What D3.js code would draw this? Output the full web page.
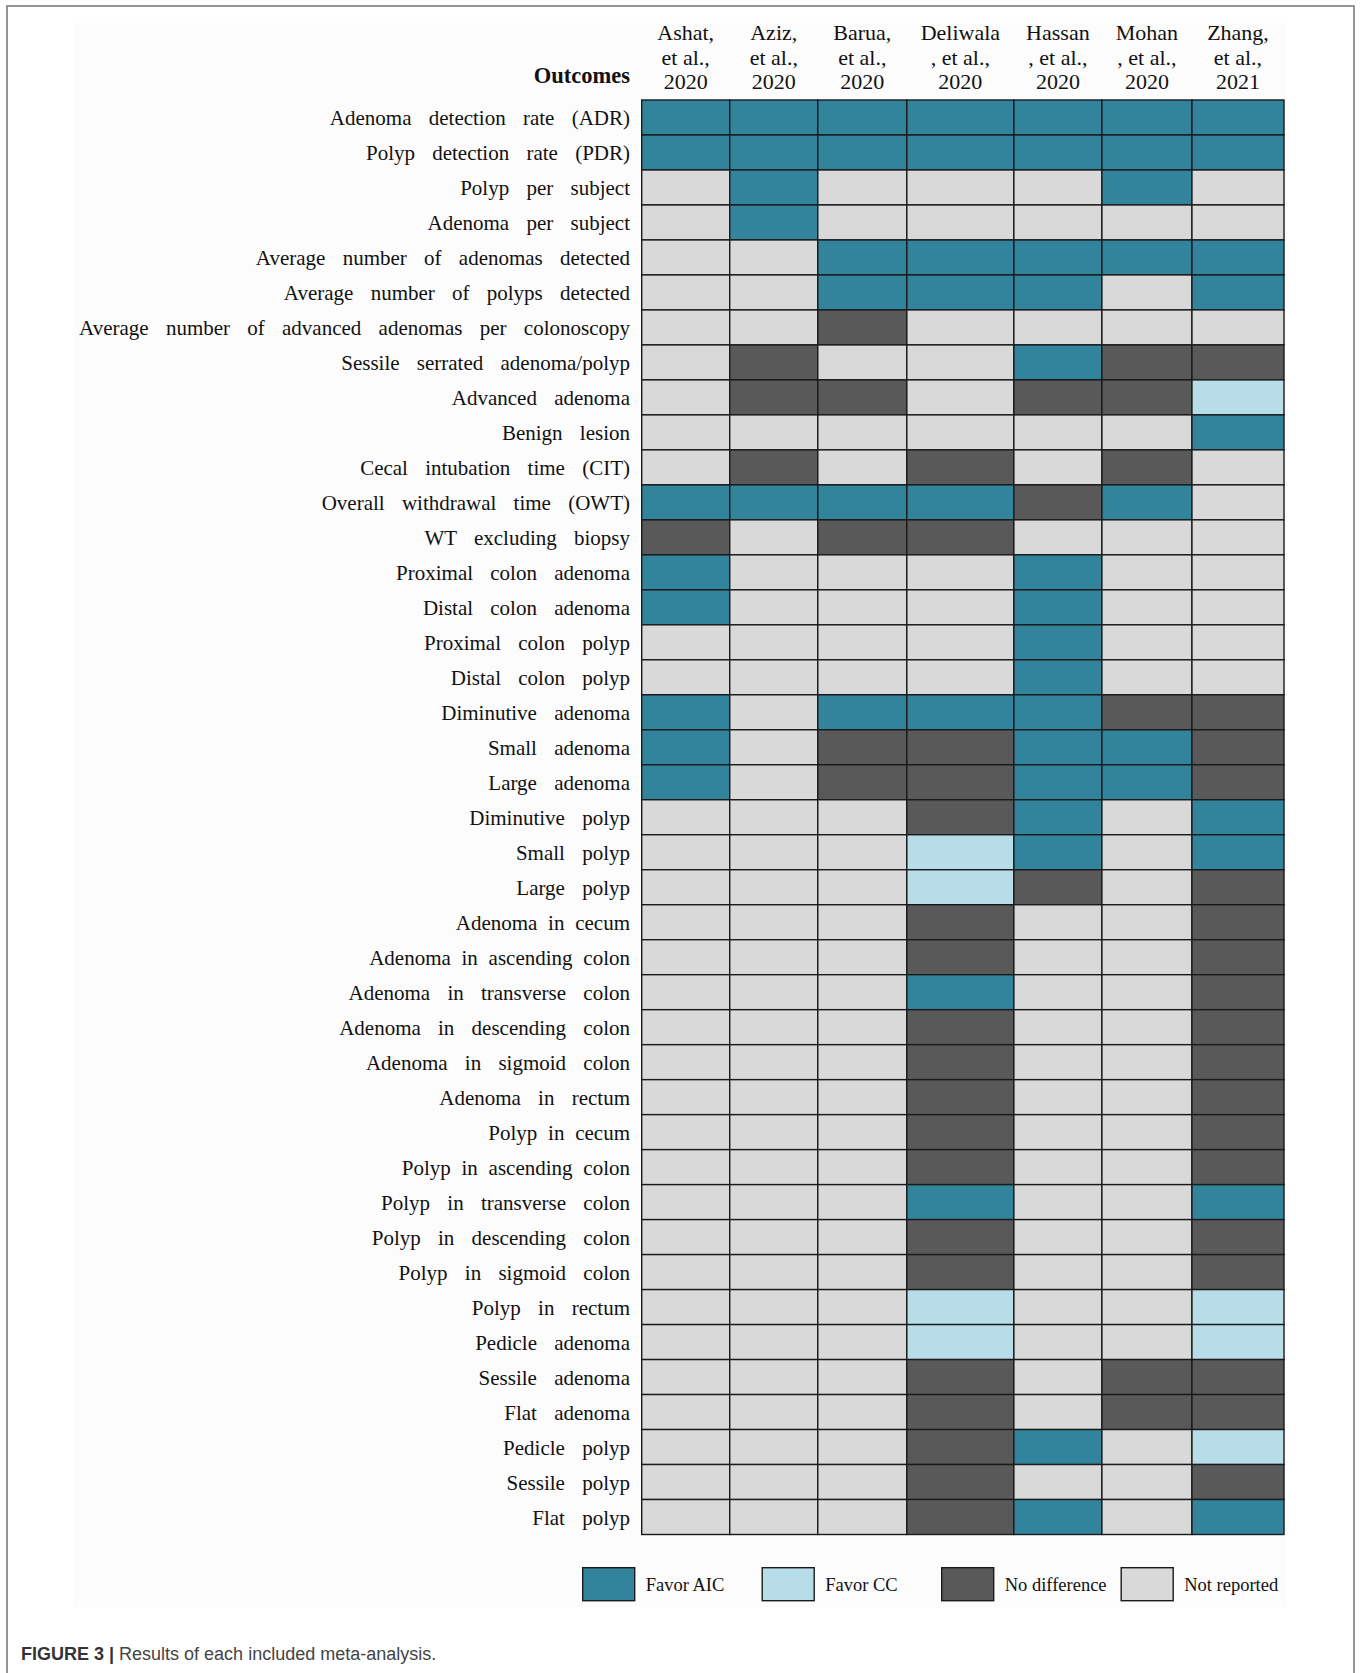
<!DOCTYPE html>
<html>
<head>
<meta charset="utf-8">
<style>
	body { margin: 0; background: #fff; }
	svg { display: block; }
</style>
<script src="https://d3js.org/d3.v7.min.js"></script>
</head>
<body>
<div id="chart"></div>
<script>
	// Outcomes (rows, top to bottom)
	var outcomes = [
		"Adenoma detection rate (ADR)", "Polyp detection rate (PDR)", "Polyp per subject",
		"Adenoma per subject", "Average number of adenomas detected", "Average number of polyps detected",
		"Average number of advanced adenomas per colonoscopy", "Sessile serrated adenoma/polyp",
		"Advanced adenoma", "Benign lesion", "Cecal intubation time (CIT)", "Overall withdrawal time (OWT)",
		"WT excluding biopsy", "Proximal colon adenoma", "Distal colon adenoma", "Proximal colon polyp",
		"Distal colon polyp", "Diminutive adenoma", "Small adenoma", "Large adenoma", "Diminutive polyp",
		"Small polyp", "Large polyp", "Adenoma in cecum", "Adenoma in ascending colon",
		"Adenoma in transverse colon", "Adenoma in descending colon", "Adenoma in sigmoid colon",
		"Adenoma in rectum", "Polyp in cecum", "Polyp in ascending colon", "Polyp in transverse colon",
		"Polyp in descending colon", "Polyp in sigmoid colon", "Polyp in rectum", "Pedicle adenoma",
		"Sessile adenoma", "Flat adenoma", "Pedicle polyp", "Sessile polyp", "Flat polyp"
	];
	// labels typeset without the extra word spacing
	var plainLabels = ["Adenoma in cecum", "Adenoma in ascending colon", "Polyp in cecum", "Polyp in ascending colon"];

	// Studies (columns), header lines
	var studies = [
		["Ashat,", "et al.,", "2020"],
		["Aziz,", "et al.,", "2020"],
		["Barua,", "et al.,", "2020"],
		["Deliwala", ", et al.,", "2020"],
		["Hassan", ", et al.,", "2020"],
		["Mohan", ", et al.,", "2020"],
		["Zhang,", "et al.,", "2021"]
	];

	// A = Favor AIC, C = Favor CC, N = No difference, R = Not reported
	var ashat = ["A","A","R","R","R","R","R","R","R","R","R","A","N","A","A","R","R","A","A","A","R",
		"R","R","R","R","R","R","R","R","R","R","R","R","R","R","R","R","R","R","R","R"];
	var aziz = ["A","A","A","A","R","R","R","N","N","R","N","A","R","R","R","R","R","R","R","R","R",
		"R","R","R","R","R","R","R","R","R","R","R","R","R","R","R","R","R","R","R","R"];
	var barua = ["A","A","R","R","A","A","N","R","N","R","R","A","N","R","R","R","R","A","N","N","R",
		"R","R","R","R","R","R","R","R","R","R","R","R","R","R","R","R","R","R","R","R"];
	var deliwala = ["A","A","R","R","A","A","R","R","R","R","N","A","N","R","R","R","R","A","N","N","N",
		"C","C","N","N","A","N","N","N","N","N","A","N","N","C","C","N","N","N","N","N"];
	var hassan = ["A","A","R","R","A","A","R","A","N","R","R","N","R","A","A","A","A","A","A","A","A",
		"A","N","R","R","R","R","R","R","R","R","R","R","R","R","R","R","R","A","R","A"];
	var mohan = ["A","A","A","R","A","R","R","N","N","R","N","A","R","R","R","R","R","N","A","A","R",
		"R","R","R","R","R","R","R","R","R","R","R","R","R","R","R","N","N","R","R","R"];
	var zhang = ["A","A","R","R","A","A","R","N","C","A","R","R","R","R","R","R","R","N","N","N","A",
		"A","N","N","N","N","N","N","N","N","N","A","N","N","C","C","N","N","C","N","A"];
	var results = [ashat, aziz, barua, deliwala, hassan, mohan, zhang];

	var legendCodes = ["A", "C", "N", "R"];
	var legendLabels = ["Favor AIC", "Favor CC", "No difference", "Not reported"];

	// relative column widths as drawn in the original table
	var colWeights = [88, 88, 89, 107, 88, 90, 92];

	var W = 1362, H = 1673;
	var serif = "'Liberation Serif', 'Times New Roman', serif";

	var svg = d3.select("#chart").append("svg")
		.attr("width", W)
		.attr("height", H);

	svg.append("rect").attr("width", W).attr("height", H).attr("fill", "#fff");
	// outer figure frame (bottom edge runs off the page)
	svg.append("rect")
		.attr("x", 7).attr("y", 6).attr("width", 1347).attr("height", 1720)
		.attr("fill", "none").attr("stroke", "#8a8a8a").attr("stroke-width", 1.8);
	// faint figure panel
	svg.append("rect")
		.attr("x", 73).attr("y", 23).attr("width", 1214).attr("height", 1584)
		.attr("fill", "#fcfcfc");

	var color = d3.scaleOrdinal()
		.domain(legendCodes)
		.range(["#31849b", "#b7dee8", "#595959", "#d9d9d9"]);

	var cum = [0];
	colWeights.forEach(function(w, i) { cum.push(cum[i] + w); });
	var x = d3.scaleLinear().domain([0, cum[cum.length - 1]]).range([641.7, 1284]);
	var y = d3.scaleBand().domain(outcomes).range([100, 1534.5]).padding(0);

	// Cells
	var cells = [];
	results.forEach(function(col, j) {
		col.forEach(function(code, i) {
			cells.push({ col: j, row: outcomes[i], code: code });
		});
	});
	svg.append("g").selectAll("rect")
		.data(cells)
		.enter()
		.append("rect")
		.attr("x", function(d) { return x(cum[d.col]); })
		.attr("y", function(d) { return y(d.row); })
		.attr("width", function(d) { return x(cum[d.col + 1]) - x(cum[d.col]); })
		.attr("height", y.bandwidth())
		.attr("fill", function(d) { return color(d.code); })
		.attr("stroke", "#1a1a1a")
		.attr("stroke-width", 1.4);

	// Row labels
	svg.append("g").selectAll("text")
		.data(outcomes)
		.enter()
		.append("text")
		.text(function(d) { return d; })
		.attr("x", 630)
		.attr("y", function(d) { return y(d) + y.bandwidth() / 2 + 7.5; })
		.attr("text-anchor", "end")
		.attr("font-family", serif)
		.attr("font-size", "21px")
		.attr("word-spacing", function(d) { return plainLabels.indexOf(d) >= 0 ? "5.5px" : "12px"; })
		.attr("fill", "#111");

	// Column headers
	var head = svg.append("g").selectAll("text")
		.data(studies)
		.enter()
		.append("text")
		.attr("text-anchor", "middle")
		.attr("font-family", serif)
		.attr("font-size", "22px")
		.attr("fill", "#111");
	head.selectAll("tspan")
		.data(function(d, i) { return d.map(function(t) { return { t: t, c: i }; }); })
		.enter()
		.append("tspan")
		.attr("x", function(d) { return (x(cum[d.c]) + x(cum[d.c + 1])) / 2; })
		.attr("y", function(d, k) { return 40 + k * 24.5; })
		.text(function(d) { return d.t; });

	svg.append("text")
		.text("Outcomes")
		.attr("x", 630)
		.attr("y", 83)
		.attr("text-anchor", "end")
		.attr("font-family", serif)
		.attr("font-weight", "bold")
		.attr("font-size", "22.5px")
		.attr("fill", "#111");

	// Legend
	var lx = d3.scaleBand().domain(legendCodes).range([582.7, 1300.7]).padding(0);
	var leg = svg.append("g").selectAll("g")
		.data(legendCodes)
		.enter()
		.append("g")
		.attr("transform", function(d) { return "translate(" + lx(d) + ",1567.7)"; });
	leg.append("rect")
		.attr("width", 52)
		.attr("height", 33)
		.attr("fill", function(d) { return color(d); })
		.attr("stroke", "#1a1a1a")
		.attr("stroke-width", 1.4);
	leg.append("text")
		.text(function(d, i) { return legendLabels[i]; })
		.attr("x", 63)
		.attr("y", 23.5)
		.attr("font-family", serif)
		.attr("font-size", "18.5px")
		.attr("fill", "#111");

	// Caption
	var cap = svg.append("text")
		.attr("x", 21)
		.attr("y", 1660)
		.attr("font-family", "'Liberation Sans', Arial, sans-serif")
		.attr("font-size", "18px")
		.attr("fill", "#444");
	cap.append("tspan").attr("font-weight", "bold").attr("fill", "#333").text("FIGURE 3 |");
	cap.append("tspan").text(" Results of each included meta-analysis.");
</script>
</body>
</html>
